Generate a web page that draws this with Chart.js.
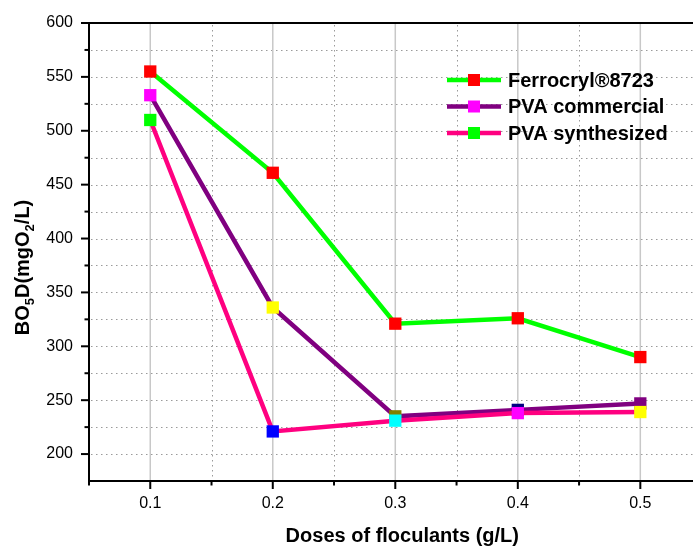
<!DOCTYPE html>
<html><head><meta charset="utf-8">
<script src="https://cdn.jsdelivr.net/npm/chart.js@4.4.0/dist/chart.umd.min.js"></script>
<style>html,body{margin:0;padding:0;background:#fff}#wrap{width:693px;height:546px;position:relative}</style>
</head><body><div id="wrap"><canvas id="c"></canvas></div>
<script>
const doses = [0.1, 0.2, 0.3, 0.4, 0.5];
const ferrocryl = [555, 461, 321, 326, 290];
const pvaCommercial = [533, 336, 235, 241, 247];
const pvaSynthesized = [510, 221, 231, 238, 239];
const ferroMarkerColors = ['#FF0000', '#FF0000', '#FF0000', '#FF0000', '#FF0000'];
const commercialMarkerColors = ['#FF00FF', '#FFFF00', '#808000', '#000080', '#800080'];
const synthMarkerColors = ['#00FF00', '#0000FF', '#00FFFF', '#FF00FF', '#FFFF00'];
const seriesNames = ['Ferrocryl®8723', 'PVA commercial', 'PVA synthesized'];
const lineColors = ['#00FF00', '#800080', '#FF0080'];
const xTickValues = [0.05, 0.1, 0.15, 0.2, 0.25, 0.3, 0.35, 0.4, 0.45, 0.5];
const yTickValues = [200, 225, 250, 275, 300, 325, 350, 375, 400, 425, 450, 475, 500, 525, 550, 575, 600];
const xTitle = 'Doses of floculants (g/L)';

const FONT = '"Liberation Sans", Arial, Helvetica, sans-serif';
const isMajorX = v => Math.abs(v * 10 - Math.round(v * 10)) < 1e-6;
const isMajorY = v => Math.abs(v % 50) < 1e-6;

function pts(ys) { return doses.map((d, i) => ({x: d, y: ys[i]})); }

const gridPlugin = {
  id: 'gridPlugin',
  beforeDatasetsDraw(chart) {
    const {ctx, chartArea: a, scales: {x, y}} = chart;
    ctx.save();
    ctx.strokeStyle = '#9a9a9a'; ctx.lineWidth = 1; ctx.setLineDash([1.5, 3.5]);
    yTickValues.forEach(v => {
      if (v >= 600) return;
      const py = Math.round(y.getPixelForValue(v)) + 0.5;
      ctx.beginPath(); ctx.moveTo(a.left + 2, py); ctx.lineTo(a.right, py); ctx.stroke();
    });
    xTickValues.forEach(v => {
      if (isMajorX(v) || v <= 0.05) return;
      const px = Math.round(x.getPixelForValue(v)) + 0.5;
      ctx.beginPath(); ctx.moveTo(px, a.top + 2); ctx.lineTo(px, a.bottom); ctx.stroke();
    });
    ctx.setLineDash([]); ctx.strokeStyle = '#c8c8c8'; ctx.lineWidth = 1.5;
    xTickValues.forEach(v => {
      if (!isMajorX(v)) return;
      const px = x.getPixelForValue(v);
      ctx.beginPath(); ctx.moveTo(px, a.top + 1); ctx.lineTo(px, a.bottom); ctx.stroke();
    });
    ctx.restore();
  },
  afterDatasetsDraw(chart) {
    const {ctx, chartArea: a, scales: {x, y}} = chart;
    ctx.save();
    ctx.strokeStyle = '#000'; ctx.lineWidth = 2; ctx.setLineDash([]);
    ctx.beginPath(); ctx.moveTo(a.left - 1, a.top); ctx.lineTo(chart.width, a.top); ctx.stroke();
    ctx.beginPath(); ctx.moveTo(a.left, a.top); ctx.lineTo(a.left, a.bottom + 1); ctx.stroke();
    ctx.beginPath(); ctx.moveTo(a.left - 1, a.bottom); ctx.lineTo(chart.width, a.bottom); ctx.stroke();
    yTickValues.forEach(v => {
      const py = y.getPixelForValue(v);
      const len = isMajorY(v) ? 8 : 4.5;
      ctx.beginPath(); ctx.moveTo(a.left, py); ctx.lineTo(a.left - len, py); ctx.stroke();
    });
    xTickValues.forEach(v => {
      const px = x.getPixelForValue(v);
      const len = isMajorX(v) ? 8 : 4.5;
      ctx.beginPath(); ctx.moveTo(px, a.bottom); ctx.lineTo(px, a.bottom + len); ctx.stroke();
    });
    const rows = [
      {name: seriesNames[0], line: lineColors[0], mark: ferroMarkerColors[0]},
      {name: seriesNames[1], line: lineColors[1], mark: commercialMarkerColors[0]},
      {name: seriesNames[2], line: lineColors[2], mark: synthMarkerColors[0]}
    ];
    const lx0 = a.left + 358, lx1 = a.left + 412, ly0 = a.top + 57, dy = 26.5;
    rows.forEach((r, i) => {
      const ly = ly0 + i * dy;
      ctx.strokeStyle = r.line; ctx.lineWidth = 4.5;
      ctx.beginPath(); ctx.moveTo(lx0, ly); ctx.lineTo(lx1, ly); ctx.stroke();
      ctx.fillStyle = r.mark;
      const cx = (lx0 + lx1) / 2;
      ctx.fillRect(cx - 6, ly - 6, 12, 12);
      ctx.fillStyle = '#000';
      ctx.font = 'bold 20px ' + FONT;
      ctx.textBaseline = 'middle'; ctx.textAlign = 'left';
      ctx.fillText(r.name, lx1 + 7, ly + 1);
    });
    ctx.restore();
  },
  afterDraw(chart) {
    const {ctx, chartArea: a, scales: {x}} = chart;
    ctx.save();
    // x axis title
    ctx.fillStyle = '#000';
    ctx.font = 'bold 20px ' + FONT;
    ctx.textAlign = 'center'; ctx.textBaseline = 'middle';
    ctx.fillText(xTitle, x.getPixelForValue(0.3) + 7, a.bottom + 55.5);
    // y axis title with subscripts
    ctx.translate(22, (a.top + a.bottom) / 2 + 15.5);
    ctx.rotate(-Math.PI / 2);
    const parts = [['BO', 0], ['5', 1], ['D(mgO', 0], ['2', 1], ['/L)', 0]];
    const big = 'bold 20px ' + FONT, small = 'bold 13px ' + FONT;
    let total = 0;
    parts.forEach(p => { ctx.font = p[1] ? small : big; total += ctx.measureText(p[0]).width; });
    let cx = -total / 2;
    ctx.textBaseline = 'alphabetic'; ctx.textAlign = 'left';
    parts.forEach(p => {
      ctx.font = p[1] ? small : big;
      ctx.fillText(p[0], cx, p[1] ? 12 : 7);
      cx += ctx.measureText(p[0]).width;
    });
    ctx.restore();
  }
};

const pointOpts = (colors) => ({
  pointStyle: 'rect', pointRadius: 8.7, pointHoverRadius: 8.7,
  pointBackgroundColor: colors, pointBorderWidth: 0, pointBorderColor: colors
});

new Chart(document.getElementById('c'), {
  type: 'line',
  data: {
    datasets: [
      Object.assign({label: seriesNames[0], data: pts(ferrocryl), borderColor: lineColors[0], borderWidth: 4.5, order: 2}, pointOpts(ferroMarkerColors)),
      Object.assign({label: seriesNames[1], data: pts(pvaCommercial), borderColor: lineColors[1], borderWidth: 4.5, order: 1}, pointOpts(commercialMarkerColors)),
      Object.assign({label: seriesNames[2], data: pts(pvaSynthesized), borderColor: lineColors[2], borderWidth: 4.5, order: 0}, pointOpts(synthMarkerColors))
    ]
  },
  options: {
    responsive: true, maintainAspectRatio: false, animation: false,
    layout: {autoPadding: false, padding: {top: 23, right: 0, bottom: 0, left: 0}},
    plugins: {legend: {display: false}, tooltip: {enabled: false}},
    scales: {
      x: {
        type: 'linear', min: 0.05, max: 0.543,
        afterBuildTicks: s => { s.ticks = xTickValues.map(v => ({value: v})); },
        afterFit: s => { s.height = 65; s.paddingRight = 0; s.paddingLeft = 0; },
        grid: {display: true, drawOnChartArea: false, drawTicks: true, tickLength: 8, tickColor: 'rgba(0,0,0,0)'},
        border: {display: false},
        ticks: {
          autoSkip: false, maxRotation: 0, padding: 5, color: '#000',
          font: {family: FONT, size: 16},
          callback: v => isMajorX(v) ? v.toFixed(1) : ''
        },
        title: {display: false, text: xTitle}
      },
      y: {
        type: 'linear', min: 175, max: 600,
        afterBuildTicks: s => { s.ticks = yTickValues.map(v => ({value: v})); },
        afterFit: s => { s.width = 89; },
        grid: {display: true, drawOnChartArea: false, drawTicks: true, tickLength: 8, tickColor: 'rgba(0,0,0,0)'},
        border: {display: false},
        ticks: {
          autoSkip: false, padding: 8, color: '#000',
          font: {family: FONT, size: 16},
          callback: v => isMajorY(v) ? String(v) : ''
        }
      }
    }
  },
  plugins: [gridPlugin]
});
</script>
</body></html>
